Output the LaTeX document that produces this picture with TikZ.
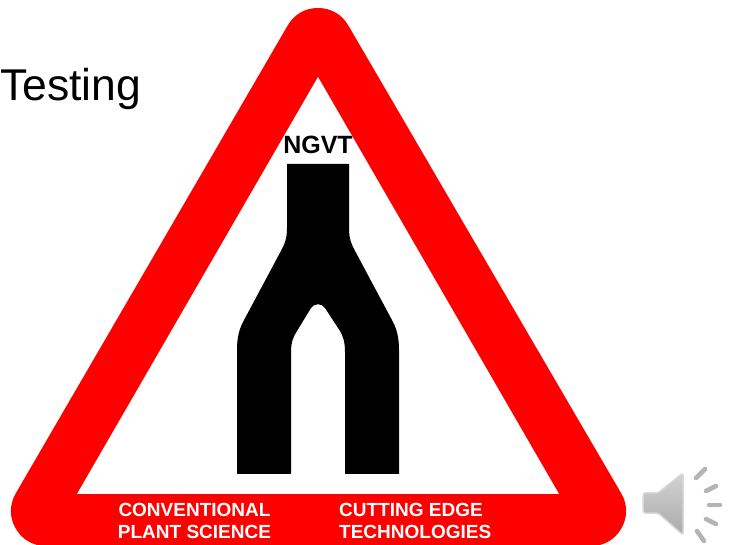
\documentclass[tikz,border=0pt]{standalone}
\usepackage{fontspec}
\setmainfont{Liberation Sans}
\definecolor{SIGNred}{HTML}{FF0000}
\definecolor{SPKgray}{HTML}{B4B4B4}
\definecolor{SPKedge}{HTML}{D8D8D8}
\usetikzlibrary{calc, positioning}
\tikzset{
   signtext/.style={font=\bfseries\fontsize{19}{22}\selectfont, white, inner sep=0pt, align=center},
   ray/.style={line width=4.6pt, line cap=round, SPKgray}
}

\begin{document}
\begin{tikzpicture}[x=1pt, y=-1pt]
      \useasboundingbox (0,0) rectangle (729,545);
      % Red band of the sign
      \filldraw[SIGNred, line width=70pt, line join=round] (318,43) -- (591,511) -- (46,511) -- cycle;
      % White inside
      \fill[white] (318,77) -- (559,494) -- (77,494) -- cycle;
      % Fork in the road
      \fill[black] (287,164) -- (349,164) -- (349,228)
         .. controls (349,238) and (351,243) .. (354,249)
         -- (393,322) .. controls (397,330) and (399,338) .. (399,350)
         -- (399,474) -- (345,474) -- (345,352)
         .. controls (345,342) and (343,336) .. (340,331)
         -- (325,308) .. controls (322,303) and (314,303) .. (311,308)
         -- (297,331) .. controls (293,337) and (291,343) .. (291,352)
         -- (291,474) -- (237,474) -- (237,350)
         .. controls (237,338) and (239,330) .. (243,322)
         -- (282,249) .. controls (285,243) and (287,238) .. (287,228)
         -- cycle;
      % Labels
      \node[anchor=west, inner sep=0pt, font=\fontsize{44.5}{48}\selectfont] (testing) at (0,89) {Testing};
      \node[inner sep=0pt, font=\bfseries\fontsize{25}{28}\selectfont] (ngvt) at (318,145) {NGVT};
      \node[signtext] (conv) at (194.5,521) {CONVENTIONAL\\PLANT SCIENCE};
      \node[signtext, align=left, anchor=west] (tech) at (339,521) {CUTTING EDGE\\TECHNOLOGIES};
      % Speaker icon
      \draw[SPKedge, line width=1.5pt, rounded corners=2.5pt, top color=SPKgray!60, bottom color=SPKgray!95!black]
         (643,493) -- (658,493) -- (683,473) -- (683,535) -- (658,513) -- (643,513) -- cycle;
      \draw[ray] (696,478) -- (705,469);
      \draw[ray] (706,491) -- (716,486);
      \draw[ray] (709,505) -- (720,505);
      \draw[ray] (706,519) -- (716,524);
      \draw[ray] (697,531) -- (704,541);
   \end{tikzpicture}
\end{document}
